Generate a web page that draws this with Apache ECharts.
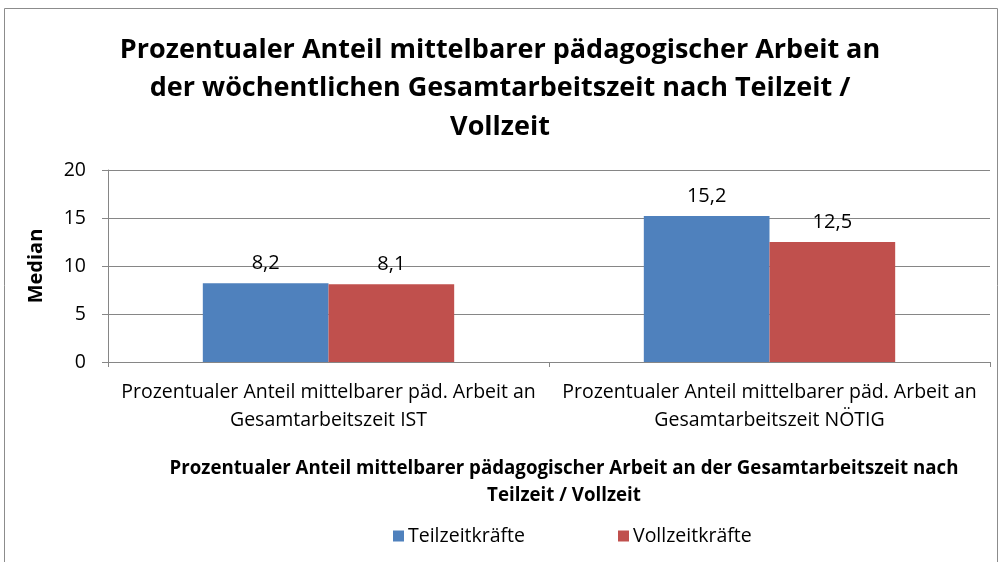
<!DOCTYPE html>
<html><head><meta charset="utf-8">
<script src="https://cdn.jsdelivr.net/npm/echarts@6/dist/echarts.min.js"></script>
<style>html,body{margin:0;padding:0;background:#fff}#c{width:1000px;height:562px}</style>
</head><body><div id="c"></div>
<script>
const categories = ["Prozentualer Anteil mittelbarer päd. Arbeit an\nGesamtarbeitszeit IST", "Prozentualer Anteil mittelbarer päd. Arbeit an\nGesamtarbeitszeit NÖTIG"];
const seriesNames = ["Teilzeitkräfte", "Vollzeitkräfte"];
const teilzeit = [8.2, 15.2];
const vollzeit = [8.1, 12.5];
const yTicks = [0, 5, 10, 15, 20];
const FONT = "Open Sans";
const chart = echarts.init(document.getElementById('c'));
const fmt = p => String(p.value).replace('.', ',');
chart.setOption({
  animation: false,
  textStyle: { fontFamily: FONT },
  title: {
    text: "Prozentualer Anteil mittelbarer pädagogischer Arbeit an\nder wöchentlichen Gesamtarbeitszeit nach Teilzeit /\nVollzeit",
    left: 'center', top: 26,
    textStyle: { fontFamily: FONT, fontWeight: 'bold', fontSize: 27, lineHeight: 38.5, color: '#000' }
  },
  graphic: [{ type: 'rect', shape: { x: 4.5, y: 8.5, width: 993, height: 560 }, style: { fill: null, stroke: '#8c8c8c', lineWidth: 1 } }],
  grid: { left: 108, right: 10, top: 170, bottom: 200, containLabel: false },
  legend: {
    bottom: 11, left: 388, itemWidth: 11, itemHeight: 11, itemGap: 93, icon: 'rect',
    textStyle: { fontFamily: FONT, fontSize: 19.5, color: '#000', padding: [0, 0, 0, -1] },
    data: seriesNames
  },
  xAxis: {
    type: 'category', data: categories,
    name: "Prozentualer Anteil mittelbarer pädagogischer Arbeit an der Gesamtarbeitszeit nach\nTeilzeit / Vollzeit",
    nameLocation: 'middle', nameGap: 93,
    nameTextStyle: { fontFamily: FONT, fontWeight: 'bold', fontSize: 18.7, lineHeight: 27, color: '#000', padding: [0, 0, 0, 30] },
    axisLine: { lineStyle: { color: '#868686' } },
    axisTick: { show: true, length: 5, lineStyle: { color: '#868686' } },
    axisLabel: { interval: 0, hideOverlap: false, fontFamily: FONT, fontSize: 19.5, lineHeight: 28, color: '#000', margin: 16 }
  },
  yAxis: {
    type: 'value', min: 0, max: 20, interval: 5,
    name: 'Median', nameLocation: 'middle', nameGap: 62, nameRotate: 90,
    nameTextStyle: { fontFamily: FONT, fontWeight: 'bold', fontSize: 20, color: '#000' },
    axisLine: { show: true, lineStyle: { color: '#868686' } },
    axisTick: { show: true, length: 6, inside: false, lineStyle: { color: '#868686' } },
    axisLabel: { fontFamily: FONT, fontSize: 19.5, color: '#000', margin: 22, formatter: v => yTicks.includes(v) ? String(v) : '' },
    splitLine: { lineStyle: { color: '#868686' } }
  },
  series: [
    { name: seriesNames[0], type: 'bar', data: teilzeit, barGap: '0%', barCategoryGap: '43%',
      itemStyle: { color: '#4f81bd' },
      label: { show: true, position: 'top', distance: 10, fontFamily: FONT, fontSize: 20, color: '#000', formatter: fmt } },
    { name: seriesNames[1], type: 'bar', data: vollzeit, barGap: '0%', barCategoryGap: '43%',
      itemStyle: { color: '#c0504d' },
      label: { show: true, position: 'top', distance: 10, fontFamily: FONT, fontSize: 20, color: '#000', formatter: fmt } }
  ]
});
</script></body></html>
